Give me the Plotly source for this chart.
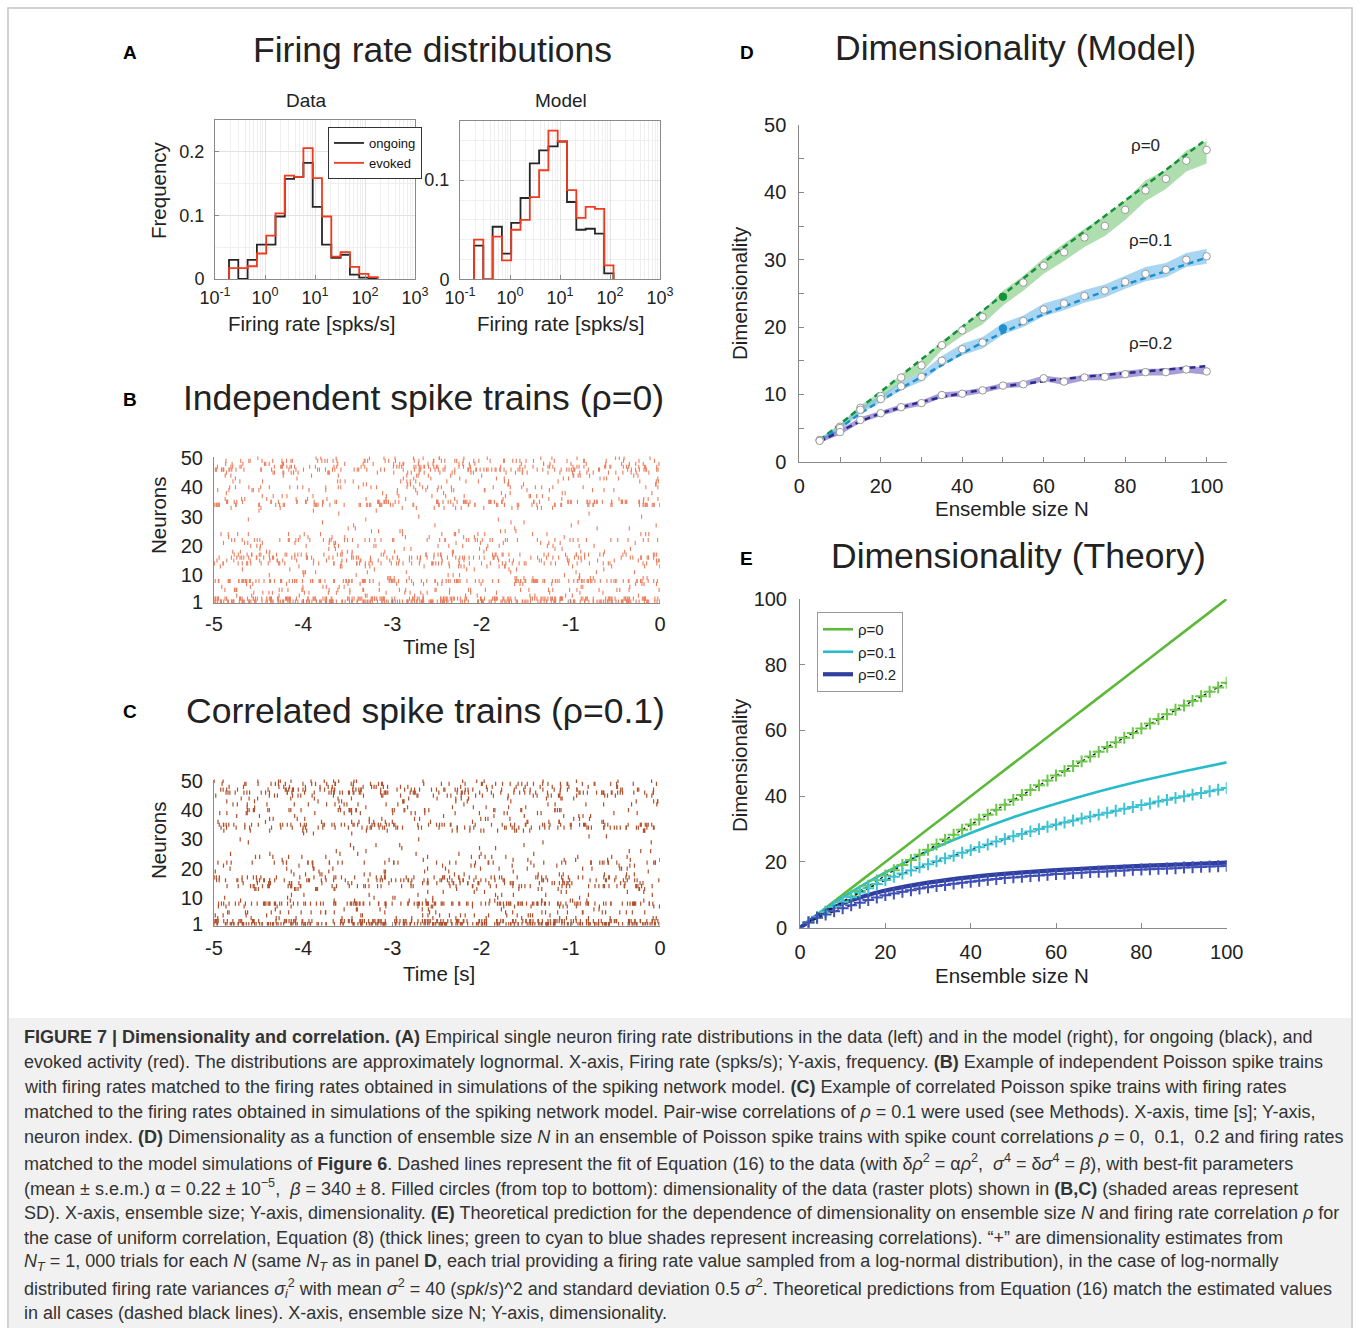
import math
import plotly.graph_objects as go

W, H = 1360, 1328
FONT = "Liberation Sans, Arial, Helvetica, sans-serif"
INK = "#222222"
AXC = "#8a8a8a"

# ======================= DATA =======================
# Panel A: histogram bin edges (log10 of spks/s) and frequencies
A_BIN_EDGES_LOG10 = [-0.72, -0.534, -0.348, -0.162, 0.024, 0.21, 0.396, 0.582, 0.768,
                     0.954, 1.14, 1.326, 1.512, 1.698, 1.884, 2.07, 2.256]
A_DATA_ONGOING = [0.03, 0.0, 0.03, 0.054, 0.054, 0.098, 0.157, 0.16, 0.182, 0.113,
                  0.054, 0.033, 0.038, 0.007, 0.002, 0.0]
A_DATA_EVOKED = [0.017, 0.017, 0.02, 0.04, 0.068, 0.103, 0.162, 0.16, 0.205, 0.158,
                 0.098, 0.035, 0.042, 0.019, 0.008, 0.003]
A_MODEL_ONGOING = [0.034, 0.0, 0.053, 0.026, 0.057, 0.082, 0.117, 0.13, 0.134, 0.139,
                   0.078, 0.05, 0.051, 0.046, 0.006]
A_MODEL_EVOKED = [0.04, 0.0, 0.043, 0.019, 0.05, 0.06, 0.083, 0.11, 0.15, 0.139,
                  0.09, 0.062, 0.073, 0.071, 0.014]
A_XTICK_VALS = [0.1, 1, 10, 100, 1000]
A_XTICK_TEXT = ["10<sup>-1</sup>", "10<sup>0</sup>", "10<sup>1</sup>", "10<sup>2</sup>", "10<sup>3</sup>"]

# Panels B/C: firing rate (spks/s) of neurons 1..50, estimated from row densities
RASTER_RATES_B = [45, 30, 3, 4, 7, 2, 4, 28, 3, 1.5,
                  2, 1.5, 4, 12, 8, 14, 10, 3, 2, 3.5,
                  3, 10, 2, 3.5, 1.5, 1, 0.8, 0.8, 0.6, 0.4,
                  0.3, 0.6, 3, 14, 16, 3.5, 3, 2, 4, 6,
                  2, 4, 3, 3.5, 8, 16, 12, 7, 10, 4]
RASTER_RATES_C = [42, 28, 4, 4, 6, 2, 4, 26, 3, 1.5,
                  2, 1.5, 4, 11, 9, 13, 10, 3, 2, 3,
                  2.5, 9, 2, 3, 1.5, 1, 0.8, 0.8, 0.6, 0.4,
                  0.4, 0.6, 4, 12, 14, 3.5, 3, 2, 4, 7,
                  2, 4, 3, 3.5, 7, 14, 11, 6, 9, 4]
C_COMMON_EVENTS = [-4.85, -4.37, -4.13, -3.65, -3.45, -3.08, -2.60, -2.28, -2.0,
                   -1.64, -1.32, -1.12, -0.64, -0.36, -0.08]
RASTER_XTICKS = [-5, -4, -3, -2, -1, 0]
RASTER_YTICKS = [1, 10, 20, 30, 40, 50]

# Panel D: dimensionality vs ensemble size
D_N = [5, 10, 15, 20, 25, 30, 35, 40, 45, 50, 55, 60, 65, 70, 75, 80, 85, 90, 95, 100]
D_RHO0 = [3.2, 5.2, 8.0, 9.75, 12.5, 14.3, 17.3, 19.5, 21.5, 24.5, 26.6, 29.1, 31.1, 33.3, 35.0, 37.4, 40.3, 42.0, 44.7, 46.3]
D_RHO0_HI = [3.5, 5.6, 8.4, 10.3, 13.0, 15.1, 17.9, 20.2, 22.4, 25.4, 27.6, 30.2, 32.4, 34.6, 36.5, 38.8, 41.8, 43.3, 46.2, 47.6]
D_RHO0_LO = [2.9, 4.8, 7.5, 9.2, 11.8, 13.3, 16.6, 18.7, 20.4, 23.2, 25.4, 27.9, 29.8, 31.9, 33.5, 35.9, 38.7, 40.5, 43.1, 44.3]
D_RHO0_FIT = [3.2, 5.6, 8.0, 10.4, 12.8, 15.2, 17.6, 20.0, 22.4, 24.9, 27.2, 29.6, 31.9, 34.2, 36.4, 38.7, 41.0, 43.3, 45.6, 47.9]
D_RHO1 = [3.2, 5.0, 7.7, 9.3, 11.2, 12.6, 15.0, 16.7, 17.7, 19.8, 20.9, 22.6, 23.5, 24.6, 25.4, 26.7, 27.9, 28.5, 30.0, 30.5]
D_RHO1_HI = [3.5, 5.4, 8.1, 9.8, 11.8, 13.3, 15.7, 17.5, 18.5, 20.6, 21.7, 23.5, 24.4, 25.5, 26.3, 27.6, 28.9, 29.5, 31.0, 31.6]
D_RHO1_LO = [2.9, 4.6, 7.2, 8.8, 10.6, 11.9, 14.2, 15.8, 16.8, 18.9, 20.0, 21.6, 22.5, 23.6, 24.4, 25.7, 26.8, 27.4, 28.9, 29.4]
D_RHO1_FIT = [3.2, 5.0, 7.2, 9.1, 10.9, 12.6, 14.4, 16.1, 17.7, 19.2, 20.6, 21.9, 23.1, 24.2, 25.3, 26.3, 27.3, 28.3, 29.3, 30.3]
D_RHO2 = [3.1, 4.4, 6.2, 7.2, 8.1, 8.7, 9.9, 10.1, 10.6, 11.3, 11.5, 12.4, 11.9, 12.5, 12.6, 13.0, 13.3, 13.3, 13.7, 13.4]
D_RHO2_HI = [3.4, 4.8, 6.6, 7.6, 8.5, 9.1, 10.3, 10.5, 11.0, 11.7, 11.9, 12.8, 12.4, 12.9, 13.1, 13.5, 13.8, 13.8, 14.2, 14.0]
D_RHO2_LO = [2.8, 4.0, 5.8, 6.8, 7.7, 8.3, 9.5, 9.7, 10.2, 10.9, 11.1, 12.0, 11.4, 12.1, 12.1, 12.5, 12.8, 12.8, 13.2, 12.9]
D_RHO2_FIT = [3.0, 4.5, 6.0, 7.2, 8.1, 8.9, 9.6, 10.2, 10.7, 11.2, 11.6, 12.0, 12.3, 12.6, 12.9, 13.2, 13.5, 13.7, 13.9, 14.2]
D_FILLED_N = 50  # data of rasters B, C
D_LABELS = ["ρ=0", "ρ=0.1", "ρ=0.2"]

# Panel E: theory curves and estimates
E_N_CURVE = [0, 5, 10, 15, 20, 30, 40, 50, 60, 70, 80, 90, 100]
E_RHO0 = [0, 5, 10, 15, 20, 30, 40, 50, 60, 70, 80, 90, 100]
E_RHO1 = [0, 4.8, 9.2, 13.2, 16.8, 23.3, 28.8, 33.6, 37.7, 41.4, 44.7, 47.6, 50.3]
E_RHO2 = [0, 4.3, 7.4, 9.6, 11.3, 13.7, 15.4, 16.6, 17.5, 18.2, 18.8, 19.3, 19.8]
E_N_EST = [2, 4, 6, 8, 10, 12, 14, 16, 18, 20, 22, 24, 26, 28, 30, 32, 34, 36, 38, 40,
           42, 44, 46, 48, 50, 52, 54, 56, 58, 60, 62, 64, 66, 68, 70, 72, 74, 76, 78, 80,
           82, 84, 86, 88, 90, 92, 94, 96, 98, 100]
E_EST0 = [1.6, 3.2, 4.8, 6.4, 8.0, 9.6, 11.2, 12.8, 14.4, 15.9, 17.5, 19.1, 20.6, 22.2, 23.7, 25.3, 26.8, 28.3, 29.8, 31.4,
          32.9, 34.4, 35.9, 37.4, 38.9, 40.4, 41.9, 43.3, 44.8, 46.3, 47.7, 49.2, 50.6, 52.1, 53.5, 55.0, 56.4, 57.8, 59.2, 60.6,
          62.1, 63.5, 64.9, 66.3, 67.6, 69.0, 70.4, 71.8, 73.1, 74.5]
E_EST1 = [1.7, 3.3, 4.9, 6.4, 7.9, 9.3, 10.7, 12.0, 13.3, 14.5, 15.5, 16.5, 17.4, 18.4, 19.3, 20.2, 21.1, 21.9, 22.8, 23.6,
          24.5, 25.3, 26.2, 27.0, 27.8, 28.5, 29.3, 30.0, 30.7, 31.4, 32.0, 32.6, 33.2, 33.8, 34.4, 35.0, 35.6, 36.2, 36.7, 37.3,
          37.8, 38.4, 38.9, 39.5, 40.0, 40.5, 41.0, 41.5, 42.0, 42.5]
E_EST2 = [1.6, 3.0, 4.0, 5.0, 5.9, 6.8, 7.6, 8.4, 9.2, 9.9, 10.4, 10.9, 11.4, 11.9, 12.3, 12.7, 13.0, 13.4, 13.7, 14.0,
          14.3, 14.6, 14.8, 15.1, 15.3, 15.5, 15.7, 15.9, 16.1, 16.3, 16.4, 16.6, 16.7, 16.9, 17.0, 17.1, 17.3, 17.4, 17.6, 17.7,
          17.8, 17.9, 18.0, 18.1, 18.3, 18.4, 18.5, 18.6, 18.7, 18.8]
E_LABELS = ["ρ=0", "ρ=0.1", "ρ=0.2"]

CAPTION_LINES = [
    "<b>FIGURE 7 | Dimensionality and correlation. (A)</b> Empirical single neuron firing rate distributions in the data (left) and in the model (right), for ongoing (black), and",
    "evoked activity (red). The distributions are approximately lognormal. X-axis, Firing rate (spks/s); Y-axis, frequency. <b>(B)</b> Example of independent Poisson spike trains",
    "with firing rates matched to the firing rates obtained in simulations of the spiking network model. <b>(C)</b> Example of correlated Poisson spike trains with firing rates",
    "matched to the firing rates obtained in simulations of the spiking network model. Pair-wise correlations of <i>ρ</i> = 0.1 were used (see Methods). X-axis, time [s]; Y-axis,",
    "neuron index. <b>(D)</b> Dimensionality as a function of ensemble size <i>N</i> in an ensemble of Poisson spike trains with spike count correlations <i>ρ</i> = 0,  0.1,  0.2 and firing rates",
    "matched to the model simulations of <b>Figure 6</b>. Dashed lines represent the fit of Equation (16) to the data (with δ<i>ρ</i><sup>2</sup> = α<i>ρ</i><sup>2</sup>,  <i>σ</i><sup>4</sup> = δ<i>σ</i><sup>4</sup> = <i>β</i>), with best-fit parameters",
    "(mean ± s.e.m.) α = 0.22 ± 10<sup>−5</sup>,  <i>β</i> = 340 ± 8. Filled circles (from top to bottom): dimensionality of the data (raster plots) shown in <b>(B,C)</b> (shaded areas represent",
    "SD). X-axis, ensemble size; Y-axis, dimensionality. <b>(E)</b> Theoretical prediction for the dependence of dimensionality on ensemble size <i>N</i> and firing rate correlation <i>ρ</i> for",
    "the case of uniform correlation, Equation (8) (thick lines; green to cyan to blue shades represent increasing correlations). “+” are dimensionality estimates from",
    "<i>N<sub>T</sub></i> = 1, 000 trials for each <i>N</i> (same <i>N<sub>T</sub></i> as in panel <b>D</b>, each trial providing a firing rate value sampled from a log-normal distribution), in the case of log-normally",
    "distributed firing rate variances <i>σ<sub>i</sub></i><sup>2</sup> with mean <i>σ</i><sup>2</sup> = 40 (<i>spk</i>/<i>s</i>)^2 and standard deviation 0.5 <i>σ</i><sup>2</sup>. Theoretical predictions from Equation (16) match the estimated values",
    "in all cases (dashed black lines). X-axis, ensemble size N; Y-axis, dimensionality.",
]


# ======================= HELPERS =======================
def fx(px):
    return px / W


def fy(py):
    return 1 - py / H


def stairs(edges_log, vals):
    edges = [10 ** e for e in edges_log[:len(vals) + 1]]
    xs = [edges[0]] + edges[:len(vals)] + [edges[len(vals)], edges[len(vals)]]
    ys = [0] + list(vals) + [vals[-1], 0]
    return xs, ys


def raster_points(rates, phase, events=None, share=0.0):
    """Deterministic (non-random) placement of each neuron's spike count over 5 s."""
    xs, ys = [], []
    s2, s3, s5 = math.sqrt(2), math.sqrt(3), math.sqrt(5)
    for i, r in enumerate(rates, start=1):
        n_total = int(round(r * 5))
        n_ev = 0
        if events:
            p = min(0.85, r / 18.0) * share
            for j, t in enumerate(events):
                if ((i * 0.7548776662 + j * 0.5698402910 + phase) % 1.0) < p:
                    xs.append(t + 0.02 * (((i * s5 + j * s2) % 1.0) - 0.5))
                    ys.append(i)
                    n_ev += 1
        a = (i * s2 + phase) % 1.0
        b = (i * s3 + 2 * phase) % 1.0
        for k in range(max(n_total - n_ev, 0)):
            u = (k * b + k * k * a * 0.5 + i * 0.381966) % 1.0
            xs.append(-5 + 5 * u)
            ys.append(i)
    return xs, ys


fig = go.Figure()

# ---------------- Panel A ----------------
for vals, col, name, show, xa, ya in [
    (A_DATA_ONGOING, "#262626", "ongoing", True, "x", "y"),
    (A_DATA_EVOKED, "#f23a1e", "evoked", True, "x", "y"),
    (A_MODEL_ONGOING, "#262626", "ongoing", False, "x2", "y2"),
    (A_MODEL_EVOKED, "#f23a1e", "evoked", False, "x2", "y2"),
]:
    xs, ys = stairs(A_BIN_EDGES_LOG10, vals)
    fig.add_trace(go.Scatter(x=xs, y=ys, mode="lines", line=dict(color=col, width=1.8, shape="hv"),
                             name=name, showlegend=show, legend="legend", xaxis=xa, yaxis=ya,
                             hoverinfo="skip"))

# ---------------- Panels B, C ----------------
bx, by = raster_points(RASTER_RATES_B, 0.13)
fig.add_trace(go.Scatter(x=bx, y=by, mode="markers", xaxis="x3", yaxis="y3", showlegend=False,
                         marker=dict(symbol="line-ns", size=3, line=dict(width=1.1, color="#ee7d5c")),
                         hoverinfo="skip"))
cx, cy = raster_points(RASTER_RATES_C, 0.57, events=C_COMMON_EVENTS, share=0.6)
fig.add_trace(go.Scatter(x=cx, y=cy, mode="markers", xaxis="x4", yaxis="y4", showlegend=False,
                         marker=dict(symbol="line-ns", size=3, line=dict(width=1.2, color="#b0502c")),
                         hoverinfo="skip"))

# ---------------- Panel D ----------------
D_SERIES = [
    (D_RHO0, D_RHO0_LO, D_RHO0_HI, D_RHO0_FIT, "rgba(120,200,120,0.6)", "#13913b"),
    (D_RHO1, D_RHO1_LO, D_RHO1_HI, D_RHO1_FIT, "rgba(120,190,235,0.65)", "#1e90d0"),
    (D_RHO2, D_RHO2_LO, D_RHO2_HI, D_RHO2_FIT, "rgba(120,105,195,0.65)", "#2e2a8a"),
]
for mean, lo, hi, fit, band, dash_col in D_SERIES:
    fig.add_trace(go.Scatter(x=D_N + D_N[::-1], y=hi + lo[::-1], fill="toself", fillcolor=band,
                             line=dict(width=0), mode="lines", xaxis="x5", yaxis="y5",
                             showlegend=False, hoverinfo="skip"))
for mean, lo, hi, fit, band, dash_col in D_SERIES:
    fig.add_trace(go.Scatter(x=D_N, y=fit, mode="lines", xaxis="x5", yaxis="y5", showlegend=False,
                             line=dict(color=dash_col, width=2.5, dash="6px,4px"), hoverinfo="skip"))
for k, (mean, lo, hi, fit, band, dash_col) in enumerate(D_SERIES):
    fills = [dash_col if (n == D_FILLED_N and k < 2) else "white" for n in D_N]
    lines = [dash_col if (n == D_FILLED_N and k < 2) else "#9a9a9a" for n in D_N]
    fig.add_trace(go.Scatter(x=D_N, y=mean, mode="markers", xaxis="x5", yaxis="y5", showlegend=False,
                             marker=dict(symbol="circle", size=7.5, color=fills,
                                         line=dict(color=lines, width=1)), hoverinfo="skip"))

# ---------------- Panel E ----------------
E_LINES = [(E_RHO0, "#5cb93a", 2.6), (E_RHO1, "#27bcc9", 2.6), (E_RHO2, "#2f3f9f", 4.2)]
for (vals, col, w), lab in zip(E_LINES, E_LABELS):
    fig.add_trace(go.Scatter(x=E_N_CURVE, y=vals, mode="lines", xaxis="x6", yaxis="y6",
                             line=dict(color=col, width=w, shape="spline", smoothing=0.6),
                             name=lab, legend="legend2", showlegend=True, hoverinfo="skip"))
for vals, col in [(E_EST0, "#6cc84a"), (E_EST1, "#3cc4d4"), (E_EST2, "#4050b8")]:
    fig.add_trace(go.Scatter(x=E_N_EST, y=vals, mode="lines+markers", xaxis="x6", yaxis="y6",
                             line=dict(color="#111111", width=1.3, dash="3px,3px"),
                             marker=dict(symbol="cross-thin", size=8.5, line=dict(color=col, width=2)),
                             showlegend=False, hoverinfo="skip"))


# ======================= AXES =======================
def base_axis(domain, rng, **kw):
    d = dict(domain=domain, range=rng, showline=True, linecolor=AXC, linewidth=1,
             ticks="inside", ticklen=4, tickcolor=AXC, showgrid=False, zeroline=False,
             tickfont=dict(size=20, color=INK, family=FONT), fixedrange=True, automargin=False)
    d.update(kw)
    return d


GRID_MAJ = "#e2e2e2"
GRID_MIN = "#efefef"
AFONT = dict(size=18, color=INK, family=FONT)

layout_axes = dict(
    # Panel A data
    xaxis=base_axis([fx(215), fx(415)], [-1, 3], type="log", anchor="y", mirror=True,
                    tickvals=A_XTICK_VALS, ticktext=A_XTICK_TEXT, tickfont=AFONT,
                    showgrid=True, gridcolor=GRID_MAJ, ticklabelstandoff=2,
                    minor=dict(dtick="D1", showgrid=True, gridcolor=GRID_MIN, ticks="")),
    yaxis=base_axis([fy(279), fy(119.5)], [0, 0.25], anchor="x", mirror=True,
                    tickvals=[0, 0.1, 0.2], ticktext=["0", "0.1", "0.2"], tickfont=AFONT,
                    showgrid=True, gridcolor=GRID_MAJ, ticklabelstandoff=6,
                    minor=dict(dtick=0.05, showgrid=True, gridcolor=GRID_MIN, ticks="")),
    # Panel A model
    xaxis2=base_axis([fx(460), fx(660)], [-1, 3], type="log", anchor="y2", mirror=True,
                     tickvals=A_XTICK_VALS, ticktext=A_XTICK_TEXT, tickfont=AFONT,
                     showgrid=True, gridcolor=GRID_MAJ, ticklabelstandoff=2,
                     minor=dict(dtick="D1", showgrid=True, gridcolor=GRID_MIN, ticks="")),
    yaxis2=base_axis([fy(279.3), fy(120.7)], [0, 0.16], anchor="x2", mirror=True,
                     tickvals=[0, 0.1], ticktext=["0", "0.1"], tickfont=AFONT,
                     showgrid=True, gridcolor=GRID_MAJ, ticklabelstandoff=6,
                     minor=dict(dtick=0.02, showgrid=True, gridcolor=GRID_MIN, ticks="")),
    # Panel B
    xaxis3=base_axis([fx(214), fx(660)], [-5, 0], anchor="y3", tickvals=RASTER_XTICKS,
                     ticktext=[str(v) for v in RASTER_XTICKS], ticklabelstandoff=3),
    yaxis3=base_axis([fy(603), fy(456.5)], [0.5, 50.5], anchor="x3", tickvals=RASTER_YTICKS,
                     ticks="", ticklabelstandoff=6),
    # Panel C
    xaxis4=base_axis([fx(214), fx(660)], [-5, 0], anchor="y4", tickvals=RASTER_XTICKS,
                     ticktext=[str(v) for v in RASTER_XTICKS], ticklabelstandoff=4),
    yaxis4=base_axis([fy(925.5), fy(779.5)], [0.5, 50.5], anchor="x4", tickvals=RASTER_YTICKS,
                     ticks="", ticklabelstandoff=6),
    # Panel D
    xaxis5=base_axis([fx(799.3), fx(1227)], [0, 105], anchor="y5", tickvals=[0, 20, 40, 60, 80, 100],
                     ticklen=5, ticklabelstandoff=6,
                     minor=dict(tickvals=[10, 30, 50, 70, 90], ticks="inside", ticklen=5, tickcolor=AXC)),
    yaxis5=base_axis([fy(461.7), fy(125)], [0, 50], anchor="x5", tickvals=[0, 10, 20, 30, 40, 50],
                     ticklen=5, ticklabelstandoff=8,
                     minor=dict(tickvals=[5, 15, 25, 35, 45], ticks="inside", ticklen=5, tickcolor=AXC)),
    # Panel E
    xaxis6=base_axis([fx(800), fx(1226.7)], [0, 100], anchor="y6", tickvals=[0, 20, 40, 60, 80, 100],
                     ticklen=5, ticklabelstandoff=6),
    yaxis6=base_axis([fy(927.7), fy(599)], [0, 100], anchor="x6", tickvals=[0, 20, 40, 60, 80, 100],
                     ticklen=5, ticklabelstandoff=8),
)

# ======================= TEXT =======================
ann = []


def text(px, py, s, size, bold=False, angle=0, xanchor="center", color=INK, xref="paper", yref="paper"):
    ann.append(dict(x=fx(px) if xref == "paper" else px, y=fy(py) if yref == "paper" else py,
                    xref=xref, yref=yref, text=f"<b>{s}</b>" if bold else s, showarrow=False,
                    xanchor=xanchor, yanchor="middle", textangle=angle,
                    font=dict(size=size, color=color, family=FONT)))


# titles
text(432, 50, "Firing rate distributions", 35.5)
text(423, 398, "Independent spike trains (ρ=0)", 35.5)
text(425, 711, "Correlated spike trains (ρ=0.1)", 35.5)
text(1015, 48, "Dimensionality (Model)", 35.5)
text(1018, 556, "Dimensionality (Theory)", 35.5)
# panel letters
for lx, ly, L in [(130, 52, "A"), (130, 400, "B"), (130, 711, "C"), (747, 52, "D"), (746, 558, "E")]:
    text(lx, ly, L, 19, bold=True, color="#000000")
# subtitles and axis titles
text(306, 101, "Data", 19)
text(561, 101, "Model", 19)
text(158, 190, "Frequency", 20.5, angle=-90)
text(311, 323, "Firing rate [spks/s]", 20.5)
text(560, 323, "Firing rate [spks/s]", 20.5)
text(158, 515, "Neurons", 20.5, angle=-90)
text(439, 647, "Time [s]", 20.5)
text(158, 840, "Neurons", 20.5, angle=-90)
text(439, 973, "Time [s]", 20.5)
text(740, 293, "Dimensionality", 20.5, angle=-90)
text(1012, 508, "Ensemble size N", 20.5)
text(740, 765, "Dimensionality", 20.5, angle=-90)
text(1012, 975, "Ensemble size N", 20.5)
# D curve labels
for lab, (lx, ly) in zip(D_LABELS, [(84.9, 46.9), (86.1, 32.9), (86.1, 17.5)]):
    text(lx, ly, lab, 17, xref="x5", yref="y5")

# caption
for i, line in enumerate(CAPTION_LINES):
    ann.append(dict(x=fx(22), y=fy(1037 + i * 25.1), xref="paper", yref="paper", text=line,
                    showarrow=False, xanchor="left", yanchor="middle",
                    font=dict(size=18, color="#333333", family=FONT)))

shapes = [
    dict(type="rect", xref="paper", yref="paper", x0=fx(9), x1=fx(1351), y0=fy(1328), y1=fy(1018),
         fillcolor="#f1f1f1", line=dict(width=0), layer="below"),
    dict(type="rect", xref="paper", yref="paper", x0=fx(8), x1=fx(1352), y0=fy(1340), y1=fy(8),
         fillcolor="rgba(0,0,0,0)", line=dict(color="#c4c4c4", width=1.5), layer="below"),
]

fig.update_layout(
    template="none",
    width=W, height=H, margin=dict(l=0, r=0, t=0, b=0, pad=0, autoexpand=False),
    autosize=False,
    paper_bgcolor="white", plot_bgcolor="rgba(0,0,0,0)",
    font=dict(family=FONT, color=INK),
    annotations=ann, shapes=shapes,
    legend=dict(x=fx(328), y=fy(127), xanchor="left", yanchor="top", bgcolor="white",
                bordercolor="#333333", borderwidth=1, font=dict(size=13, color="#111", family=FONT),
                itemwidth=30, tracegroupgap=0, traceorder="normal"),
    legend2=dict(x=fx(817), y=fy(612), xanchor="left", yanchor="top", bgcolor="white",
                 bordercolor="#9a9a9a", borderwidth=1, font=dict(size=15, color=INK, family=FONT),
                 itemwidth=30, tracegroupgap=0, traceorder="normal"),
    **layout_axes,
)

fig.write_html(
    "out.html",
    config={"responsive": False, "displayModeBar": False},
    post_script="document.body.style.margin='0px';document.body.style.padding='0px';"
                "document.documentElement.style.overflow='hidden';",
)
